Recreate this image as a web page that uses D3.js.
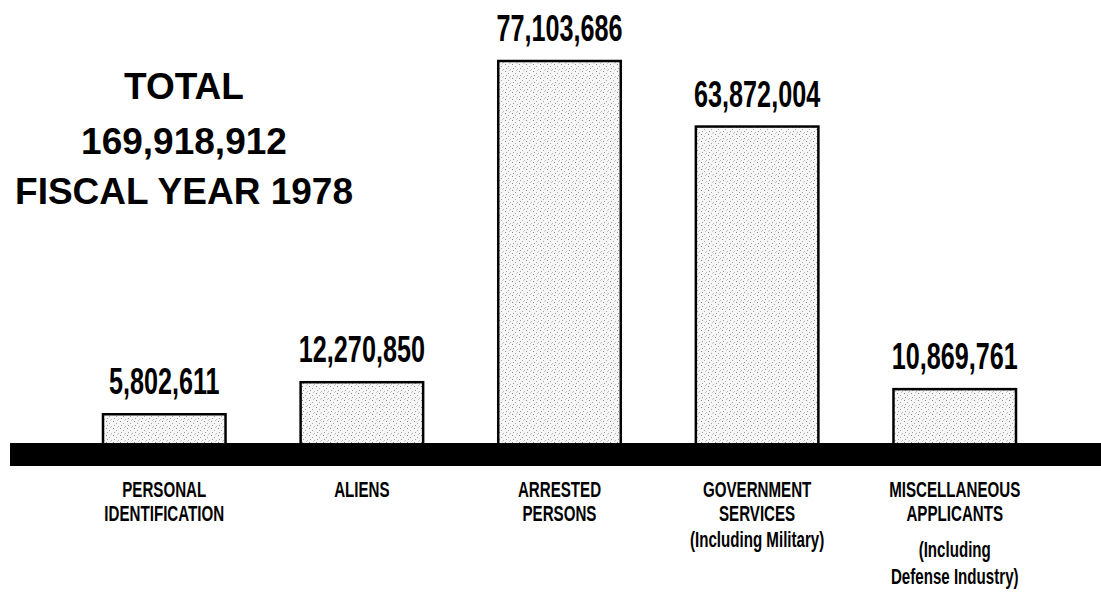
<!DOCTYPE html>
<html lang="en">
<head>
<meta charset="utf-8">
<title>Fingerprint cards, fiscal year 1978</title>
<script src="https://cdn.jsdelivr.net/npm/d3@7"></script>
<style>
    body {margin: 0; background: #fff;}
    text {fill: #000;}
    .title {font-family: "Liberation Sans", Arial, sans-serif; font-weight: bold; font-size: 37px;}
    .value {font-family: "Liberation Sans", Arial, sans-serif; font-weight: bold; font-size: 35px;}
    .label {font-family: "Liberation Sans", Arial, sans-serif; font-weight: bold; font-size: 21px;}
</style>
</head>
<body>
<script>
    // data
    const categories = ["PERSONAL", "ALIENS", "ARRESTED", "GOVERNMENT", "MISCELLANEOUS"];
    const values = [5802611, 12270850, 77103686, 63872004, 10869761];
    const labelLines = [
        ["PERSONAL", "IDENTIFICATION"],
        ["ALIENS"],
        ["ARRESTED", "PERSONS"],
        ["GOVERNMENT", "SERVICES", "(Including Military)"],
        ["MISCELLANEOUS", "APPLICANTS", "(Including", "Defense Industry)"]
    ];
    const titleLines = ["TOTAL", "169,918,912", "FISCAL YEAR 1978"];

    const dim = {width: 1101, height: 600};
    const base = 443;       // top of the thick black baseline
    const fmt = d3.format(",");

    const svg = d3.select("body").append("svg")
        .attr("width", dim.width)
        .attr("height", dim.height);

    // stippled fill for the bars
    const pat = svg.append("defs").append("pattern")
        .attr("id", "stipple")
        .attr("patternUnits", "userSpaceOnUse")
        .attr("width", 7).attr("height", 7);
    pat.append("rect").attr("width", 7).attr("height", 7).attr("fill", "#f6f6f6");
    [[1, 1, "#8a8a8a"], [4, 3, "#aaa"], [2, 5, "#9c9c9c"], [6, 6, "#bbb"], [5, 0, "#c8c8c8"]].forEach(([x, y, c]) => {
        pat.append("rect").attr("x", x).attr("y", y).attr("width", 1).attr("height", 1).attr("fill", c);
    });

    const x = d3.scaleBand()
        .domain(categories)
        .range([103, 1016])
        .paddingInner(0.38)
        .paddingOuter(0);

    const y = d3.scaleLinear()
        .domain([0, d3.max(values)])
        .range([base, 61]);

    // title block
    svg.append("g")
        .selectAll("text")
        .data(titleLines)
        .join("text")
            .attr("class", "title")
            .attr("x", 184)
            .attr("y", (d, i) => [99, 154, 204][i])
            .attr("text-anchor", "middle")
            .text(d => d);

    // bars
    svg.append("g")
        .selectAll("rect")
        .data(values)
        .join("rect")
            .attr("x", (d, i) => x(categories[i]))
            .attr("y", d => y(d))
            .attr("width", x.bandwidth())
            .attr("height", d => base + 2 - y(d))
            .attr("fill", "url(#stipple)")
            .attr("stroke", "#000")
            .attr("stroke-width", 2.5);

    // thick baseline
    svg.append("rect")
        .attr("x", 10)
        .attr("y", base)
        .attr("width", dim.width - 10)
        .attr("height", 23)
        .attr("fill", "#000");

    // value labels (condensed look via horizontal squeeze)
    svg.append("g")
        .selectAll("g")
        .data(values)
        .join("g")
            .attr("transform", (d, i) => `translate(${x(categories[i]) + x.bandwidth() / 2},${y(d) - 20}) scale(0.72,1.04)`)
        .append("text")
            .attr("class", "value")
            .attr("text-anchor", "middle")
            .text(d => fmt(d));

    // category labels
    const lineY = [497, 521, 547];
    const miscY = [497, 521, 557, 584];
    const cats = svg.append("g")
        .selectAll("g")
        .data(labelLines)
        .join("g")
            .attr("transform", (d, i) => `translate(${x(categories[i]) + x.bandwidth() / 2},0)`);

    cats.selectAll("g")
        .data((d, i) => d.map((t, j) => ({t, j, i})))
        .join("g")
            .attr("transform", d => `translate(0,${d.i === 4 ? miscY[d.j] : lineY[d.j]}) scale(0.72,1.08)`)
        .append("text")
            .attr("class", "label")
            .attr("text-anchor", "middle")
            .text(d => d.t);
</script>
</body>
</html>
